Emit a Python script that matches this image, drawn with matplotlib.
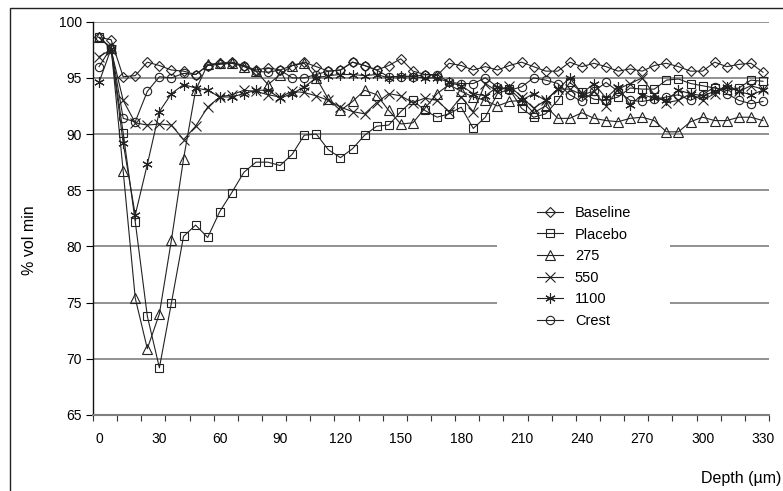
import matplotlib

matplotlib.use("Agg")
import matplotlib.pyplot as plt
import numpy as np
from matplotlib.lines import Line2D
from matplotlib.patches import Rectangle

plt.rcParams["font.family"] = ["Liberation Sans", "DejaVu Sans"]

# depth in um, one reading every 6 um
depth = np.arange(0, 331, 6)

baseline = [98.6, 98.4, 95.1, 95.2, 96.4, 96.1, 95.7, 95.6, 95.3, 96.1, 96.3, 96.4, 96.1, 95.7,
            95.9, 95.7, 96.1, 96.4, 96.0, 95.6, 95.7, 96.4, 96.1, 95.7, 96.1, 96.7, 95.6, 95.3,
            95.2, 96.3, 96.1, 95.7, 96.0, 95.7, 96.1, 96.4, 96.0, 95.6, 95.6, 96.4, 96.0, 96.3,
            96.0, 95.6, 95.8, 95.6, 96.1, 96.3, 96.0, 95.6, 95.6, 96.4, 96.0, 96.2, 96.3, 95.5]
placebo = [98.6, 97.6, 90.1, 82.2, 73.8, 69.2, 75.0, 80.9, 81.9, 80.8, 83.1, 84.8, 86.6, 87.5,
           87.5, 87.2, 88.2, 89.9, 90.0, 88.6, 87.9, 88.7, 89.9, 90.7, 90.8, 92.0, 93.0, 92.1,
           91.5, 91.8, 92.4, 90.5, 91.5, 93.6, 94.0, 92.3, 91.5, 91.8, 93.0, 94.6, 93.7, 93.1,
           93.0, 93.3, 94.1, 94.0, 94.0, 94.8, 94.9, 94.5, 94.3, 94.1, 93.9, 94.1, 94.8, 94.7]
d275 = [98.6, 97.7, 86.7, 75.4, 70.9, 74.0, 80.6, 87.8, 93.9, 96.2, 96.3, 96.3, 96.0, 95.6,
        94.4, 95.3, 96.1, 96.3, 95.0, 93.1, 92.1, 92.9, 93.9, 93.5, 92.1, 90.9, 91.0, 92.3,
        93.6, 94.4, 93.8, 93.3, 93.0, 92.5, 92.9, 93.0, 91.9, 92.5, 91.4, 91.4, 91.9, 91.4,
        91.2, 91.1, 91.4, 91.5, 91.2, 90.2, 90.2, 91.1, 91.5, 91.2, 91.2, 91.5, 91.5, 91.2]
d550 = [96.9, 97.5, 93.0, 91.0, 90.8, 90.9, 90.8, 89.5, 90.7, 92.4, 93.3, 93.5, 93.9, 93.8,
        93.5, 93.3, 93.8, 93.7, 93.4, 93.0, 92.4, 92.0, 91.8, 92.8, 93.6, 93.4, 92.8, 93.2,
        93.0, 92.0, 93.3, 92.0, 94.5, 93.8, 94.3, 93.3, 92.3, 93.0, 94.0, 94.0, 93.5, 93.8,
        92.5, 94.0, 94.5, 95.0, 93.5, 92.8, 93.0, 93.6, 93.0, 93.6, 94.4, 93.8, 94.3, 94.0]
d1100 = [94.6, 97.6, 89.2, 82.8, 87.3, 92.0, 93.6, 94.4, 94.1, 93.9, 93.3, 93.3, 93.6, 93.9,
         93.9, 93.2, 93.6, 94.2, 95.0, 95.2, 95.3, 95.3, 95.2, 95.3, 95.0, 95.2, 95.1, 95.0,
         95.0, 94.6, 94.3, 93.6, 93.4, 94.2, 94.0, 93.0, 93.6, 93.0, 94.0, 95.0, 93.6, 94.5,
         93.2, 94.2, 92.6, 93.5, 93.2, 93.0, 93.9, 93.6, 93.4, 93.8, 94.2, 93.8, 93.5, 93.9]
crest = [96.0, 97.7, 91.4, 91.1, 93.8, 95.1, 95.0, 95.4, 95.3, 96.1, 96.2, 96.3, 96.1, 95.6,
         95.5, 95.7, 95.0, 95.0, 95.3, 95.6, 95.7, 96.4, 96.1, 95.7, 95.1, 95.1, 95.1, 95.3,
         95.3, 94.6, 94.5, 94.5, 95.0, 94.2, 93.9, 94.2, 95.0, 94.8, 94.5, 93.5, 92.9, 93.8,
         94.6, 93.8, 93.0, 92.9, 93.1, 93.3, 93.5, 93.0, 93.5, 94.2, 93.6, 93.0, 92.7, 92.9]

series = [
    ("Baseline", baseline, "D", 5.5),
    ("Placebo", placebo, "s", 6.0),
    ("275", d275, "^", 6.5),
    ("550", d550, "x", 6.5),
    ("1100", d1100, (6, 2, 0), 7.5),
    ("Crest", crest, "o", 6.0),
]

W, H = 783, 491
fig = plt.figure(figsize=(W / 100, H / 100), dpi=100)
ax = fig.add_axes([93 / W, 1 - 415 / H, 676 / W, (415 - 21.7) / H])

# outer chart-area frame (only top and left edges fall inside the picture)
fig.patches.append(Rectangle((10 / W, -0.1), 1.2, 1 - 8 / H + 0.1, transform=fig.transFigure,
                             fill=False, edgecolor="#222222", linewidth=1.0))

for label, values, marker, size in series:
    ax.plot(depth, values, color="#222222", linewidth=0.8, marker=marker, markersize=size,
            markerfacecolor="none", markeredgecolor="#222222", markeredgewidth=0.8,
            label=label, zorder=3)

ax.set_xlim(-3, 333)
ax.set_ylim(65, 100)
ax.set_yticks(np.arange(65, 101, 5))
ax.set_xticks(np.arange(0, 331, 30))
ax.set_xticks(np.arange(-3, 334, 12), minor=True)
ax.tick_params(axis="x", which="major", length=0, pad=12, labelsize=10)
ax.tick_params(axis="x", which="minor", length=4, direction="out", width=0.8, color="#333333")
ax.tick_params(axis="y", length=5, direction="out", width=0.8, labelsize=10, pad=3)

ax.grid(axis="y", color="#7f7f7f", linewidth=1.2)
ax.set_axisbelow(True)
for side in ("top", "right"):
    ax.spines[side].set_visible(False)
ax.spines["left"].set_color("#111111")
ax.spines["left"].set_linewidth(1.0)
ax.spines["bottom"].set_color("#7f7f7f")
ax.spines["bottom"].set_linewidth(1.5)

fig.text(30 / W, 1 - 240 / H, "% vol min", rotation=90, ha="center", va="center", fontsize=11.5)
fig.text(781 / W, 1 - 478 / H, "Depth (\u00b5m)", ha="right", va="center", fontsize=11.5)

# white legend area hides the gridlines behind it
ax.add_patch(Rectangle(((497 - 93) / 676, (415 - 330) / 393.3), 173 / 676, 130 / 393.3,
                       transform=ax.transAxes, facecolor="white", edgecolor="none", zorder=1))

handles = [Line2D([], [], color="#222222", linewidth=0.8, marker=m, markersize=s,
                  markerfacecolor="none", markeredgewidth=0.8)
           for _, _, m, s in series]
leg = ax.legend(handles, [s[0] for s in series], loc="upper left",
                bbox_to_anchor=((537 - 93) / 676, (415 - 206) / 393.3),
                frameon=False, fontsize=10.5, handlelength=1.8, handletextpad=0.8,
                labelspacing=0.52, borderpad=0, borderaxespad=0)

fig.savefig("out.png", dpi=100)
